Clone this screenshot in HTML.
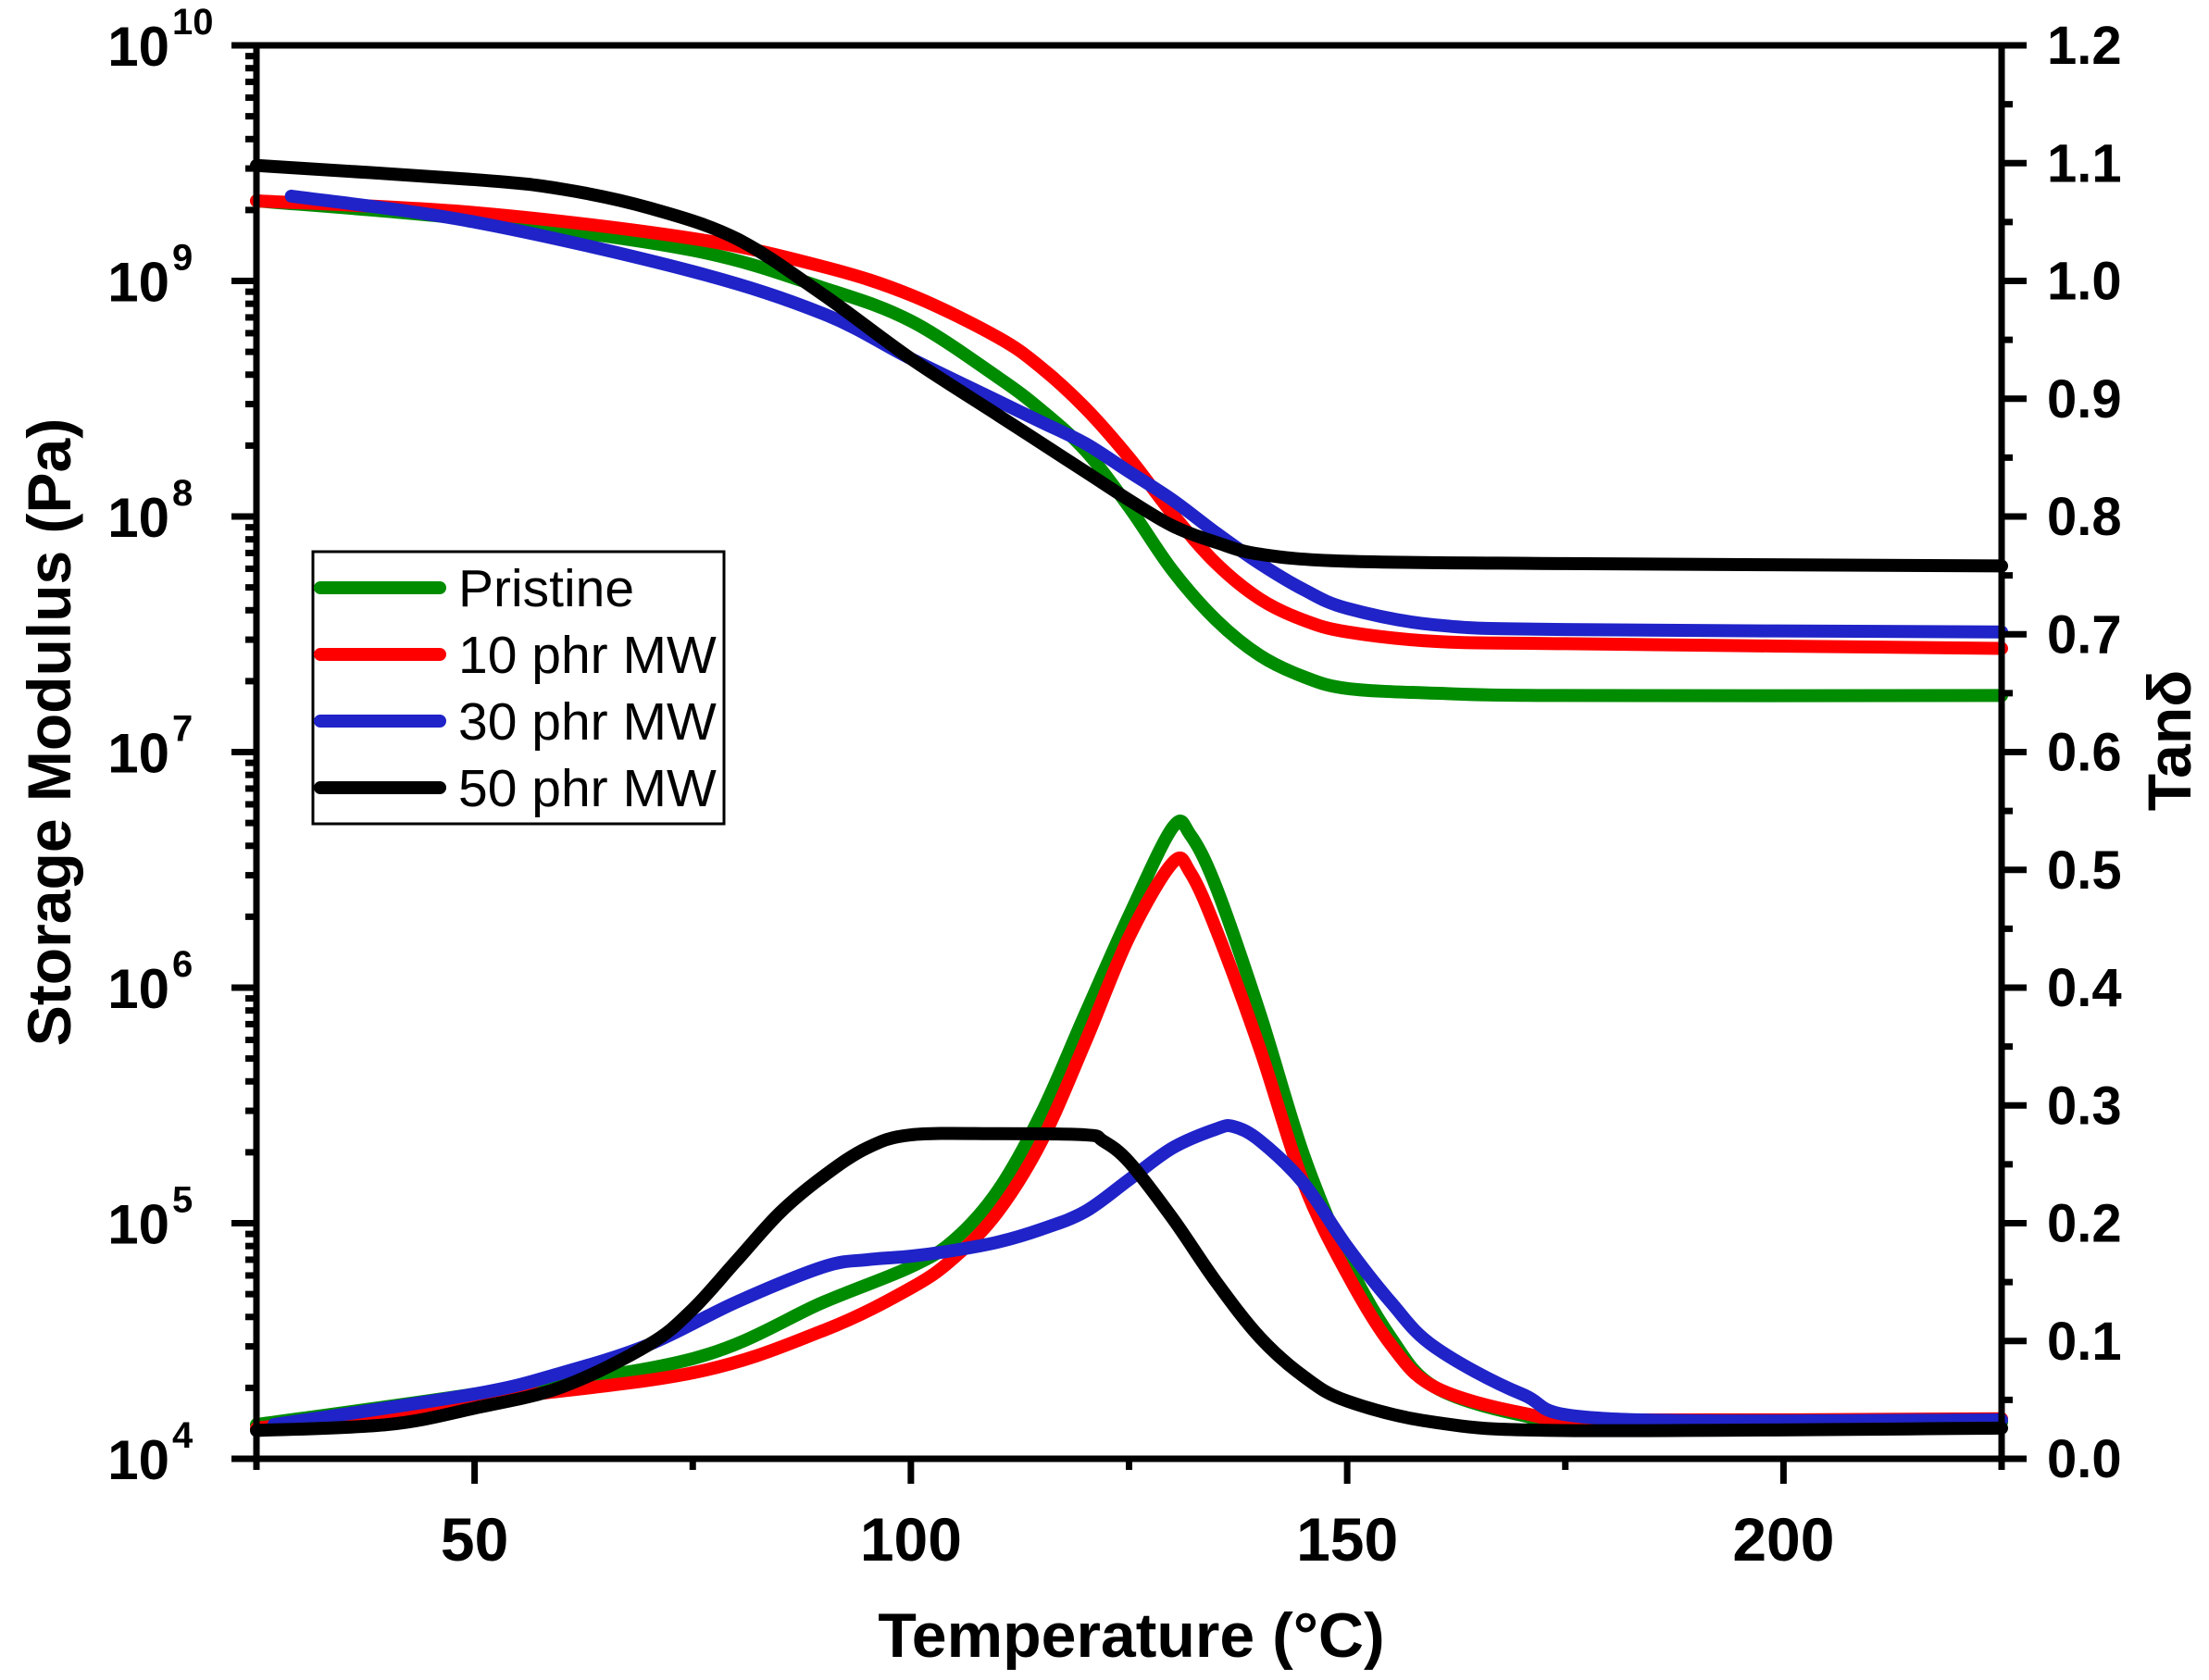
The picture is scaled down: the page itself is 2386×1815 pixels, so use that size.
<!DOCTYPE html>
<html><head><meta charset="utf-8"><style>
html,body{margin:0;padding:0;background:#fff;}
svg{display:block;font-family:"Liberation Sans",Arial,sans-serif;}
</style></head><body>
<svg id="chart" width="2386" height="1815" viewBox="0 0 2386 1815" xmlns="http://www.w3.org/2000/svg">
<g id="series"></g>
<g id="axes"></g>
<text x="0" y="0" transform="translate(76,791) rotate(-90)" text-anchor="middle" font-weight="bold" font-size="66">Storage Modulus (Pa)</text>
<text x="0" y="0" transform="translate(2366,800) rotate(-90)" text-anchor="middle" font-weight="bold" font-size="66">Tanδ</text>
<text x="1222" y="1790" text-anchor="middle" font-weight="bold" font-size="68">Temperature (°C)</text>
<g>
<rect x="338" y="596" width="444" height="294" fill="#fff" stroke="#000" stroke-width="3"/>
<line x1="346" y1="635" x2="475" y2="635" stroke="#008c00" stroke-width="14" stroke-linecap="round"/>
<text x="495" y="655" font-size="57">Pristine</text>
<line x1="346" y1="707" x2="475" y2="707" stroke="#ff0000" stroke-width="14" stroke-linecap="round"/>
<text x="495" y="727" font-size="57">10 phr MW</text>
<line x1="346" y1="779" x2="475" y2="779" stroke="#1f23c8" stroke-width="14" stroke-linecap="round"/>
<text x="495" y="799" font-size="57">30 phr MW</text>
<line x1="346" y1="851" x2="475" y2="851" stroke="#000" stroke-width="14" stroke-linecap="round"/>
<text x="495" y="871" font-size="57">50 phr MW</text>
</g>
</svg>
<script>
// Storage modulus (log10 Pa) series
const tempsE = [25,50,75,90,100,110,115,120,125,130,135,140,145,150,160,175,225];
const logE_pristine = [9.34,9.26,9.13,8.97,8.83,8.59,8.45,8.28,8.04,7.77,7.56,7.41,7.32,7.27,7.25,7.24,7.24];
const logE_10 = [9.34,9.29,9.18,9.06,8.94,8.76,8.63,8.46,8.25,8.01,7.80,7.65,7.56,7.51,7.47,7.46,7.44];
const logE_30 = [9.36,9.25,9.04,8.86,8.67,8.49,8.40,8.31,8.19,8.07,7.93,7.80,7.69,7.61,7.54,7.52,7.51];
const tempsE50 = [25,50,60,70,80,90,100,110,120,125,130,135,140,150,175,225];
const logE_50b = [9.49,9.43,9.39,9.31,9.18,8.94,8.67,8.43,8.19,8.07,7.96,7.89,7.84,7.81,7.80,7.79];
// Tan delta series
const tempsT = [25,50,75,90,100,105,110,115,120,125,130,132,135,140,145,150,155,160,170,180,225];
const tan_pristine = [0.029,0.055,0.085,0.133,0.163,0.186,0.228,0.294,0.378,0.461,0.536,0.53,0.485,0.378,0.258,0.168,0.103,0.061,0.037,0.029,0.031];
const tan_10 = [0.026,0.049,0.073,0.109,0.145,0.171,0.21,0.27,0.354,0.443,0.506,0.498,0.449,0.348,0.234,0.157,0.097,0.061,0.039,0.033,0.034];
const tempsT30 = [27,50,60,70,80,90,95,100,105,110,115,120,125,130,135,137,140,145,150,155,160,170,180,225];
const tan_30 = [0.029,0.055,0.073,0.097,0.133,0.163,0.169,0.172,0.177,0.184,0.195,0.21,0.237,0.264,0.28,0.282,0.27,0.234,0.18,0.133,0.095,0.055,0.034,0.033];
const tempsT50 = [25,40,50,60,70,75,80,85,90,95,100,110,120,122,125,130,135,140,145,150,160,175,225];
const tan_50 = [0.024,0.029,0.043,0.061,0.097,0.127,0.168,0.209,0.24,0.264,0.275,0.276,0.275,0.27,0.252,0.204,0.15,0.103,0.07,0.049,0.031,0.024,0.026];
const xTicks = [50,100,150,200];
const yLeftExp = [4,5,6,7,8,9,10];
const yRightTicks = ["0.0","0.1","0.2","0.3","0.4","0.5","0.6","0.7","0.8","0.9","1.0","1.1","1.2"];

const X0=277,X1=2162,Y0=1576,Y1=49;
const sx = t => X0 + (t-25)/200*(X1-X0);
const syL = l => Y0 - (l-4)/6*(Y0-Y1);
const syR = v => Y0 - v/1.2*(Y0-Y1);
const NS="http://www.w3.org/2000/svg";
const gS=document.getElementById('series'), gA=document.getElementById('axes');

function pathFrom(xs,ys){
  const p=xs.map((x,i)=>[x,ys[i]]);
  let d=`M${p[0][0]},${p[0][1]}`;
  for(let i=0;i<p.length-1;i++){
    const a=p[Math.max(0,i-1)],b=p[i],c=p[i+1],e=p[Math.min(p.length-1,i+2)];
    const c1=[b[0]+(c[0]-a[0])/6,b[1]+(c[1]-a[1])/6], c2=[c[0]-(e[0]-b[0])/6,c[1]-(e[1]-b[1])/6];
    d+=` C${c1[0]},${c1[1]} ${c2[0]},${c2[1]} ${c[0]},${c[1]}`;
  }
  return d;
}
function addLine(name,ts,vals,sy,color){
  const el=document.createElementNS(NS,'path');
  el.setAttribute('d',pathFrom(ts.map(sx),vals.map(sy)));
  el.setAttribute('fill','none');el.setAttribute('stroke',color);
  el.setAttribute('stroke-width','14');el.setAttribute('stroke-linejoin','round');el.setAttribute('stroke-linecap','round');
  
  
  gS.appendChild(el);
}
addLine('modulus-line-pristine',tempsE,logE_pristine,syL,'#008c00');
addLine('modulus-line-10phr',tempsE,logE_10,syL,'#ff0000');
addLine('modulus-line-30phr',tempsE.map((t,i)=>i==0?29:t),logE_30,syL,'#1f23c8');
addLine('modulus-line-50phr',tempsE50,logE_50b,syL,'#000000');
addLine('tan-line-pristine',tempsT,tan_pristine,syR,'#008c00');
addLine('tan-line-10phr',tempsT,tan_10,syR,'#ff0000');
addLine('tan-line-30phr',tempsT30,tan_30,syR,'#1f23c8');
addLine('tan-line-50phr',tempsT50,tan_50,syR,'#000000');

function ln(x1,y1,x2,y2,w,name){
  const el=document.createElementNS(NS,'line');
  el.setAttribute('x1',x1);el.setAttribute('y1',y1);el.setAttribute('x2',x2);el.setAttribute('y2',y2);
  el.setAttribute('stroke','#000');el.setAttribute('stroke-width',w);
  
  
  gA.appendChild(el);
}
function tx(x,y,s,size,anchor,name,bold){
  const el=document.createElementNS(NS,'text');
  el.setAttribute('x',x);el.setAttribute('y',y);el.setAttribute('font-size',size);
  el.setAttribute('text-anchor',anchor);if(bold)el.setAttribute('font-weight','bold');
  el.textContent=s;
  
  
  gA.appendChild(el);return el;
}
ln(X0-27,Y1,X1+27,Y1,7,'top-axis-line');
ln(X0-27,Y0,X1+27,Y0,7,'x-axis-line');
ln(X0,Y1-3,X0,Y0+12,7,'y-axis-left-line');
ln(X1,Y1-3,X1,Y0+12,7,'y-axis-right-line');
for(let t=25;t<=225;t+=25){
  const major=t%50===0;
  ln(sx(t),Y0,sx(t),Y0+(major?27:12),7,'x-tick');
}
xTicks.forEach(t=>tx(sx(t),1686,String(t),66,'middle','x-tick-label',true));
for(let e=4;e<10;e++){
  for(let m=2;m<10;m++){
    const y=syL(e+Math.log10(m));
    ln(X0-12,y,X0,y,7,'y-left-minor-tick');
  }
}
yLeftExp.forEach(e=>{
  const y=syL(e);
  ln(X0-27,y,X0,y,7,'y-left-tick');
  tx(183,y+22,'10',60,'end','y-left-tick-label',true);
  tx(186,y-12,String(e),40,'start','y-left-tick-exponent',true);
});
yRightTicks.forEach((s,i)=>{
  const v=i*0.1,y=syR(v);
  ln(X1,y,X1+27,y,7,'y-right-tick');
  if(i<12){const ym=syR(v+0.05);ln(X1,ym,X1+12,ym,7,'y-right-minor-tick');}
  tx(2211,y+20,s,58,'start','y-right-tick-label',true);
});
</script>
</body></html>
